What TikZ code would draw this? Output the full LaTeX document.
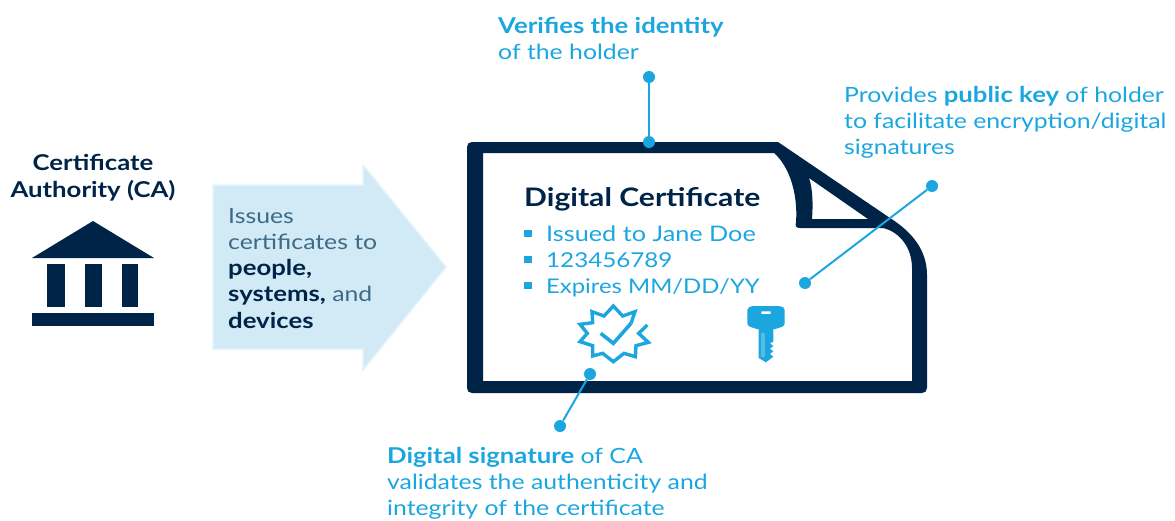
\documentclass[tikz,border=0pt]{standalone}
\usepackage{fontspec}
\setmainfont[FakeStretch=1.18]{Lato}
\definecolor{navy}{HTML}{002348}
\definecolor{sky}{HTML}{1CA6E0}
\definecolor{paleblue}{HTML}{D2EAF6}
\definecolor{paleedge}{HTML}{E2F3FA}
\definecolor{slate}{HTML}{3F6A86}
\newcommand{\bb}[1]{{\fontsize{21.8}{26.2}\selectfont\bfseries #1}}
\tikzset{
  txt/.style={inner sep=0pt,anchor=north west,align=left,text=sky,font=\fontsize{21}{26}\selectfont},
  dot/.style={circle,fill=sky,inner sep=0pt,minimum size=12pt},
  link/.style={draw=sky,line width=2pt},
  bullet/.style={fill=sky,inner sep=0pt,minimum width=8pt,minimum height=7pt},
}
\begin{document}
\begin{tikzpicture}[x=1pt,y=-1pt]
\useasboundingbox (0,0) rectangle (1175,520);
% arrow
\filldraw[fill=paleblue,draw=paleedge,line width=1.5pt] (213,185) -- (363,185) -- (363,165) -- (446,267) -- (363,370) -- (363,349) -- (213,349) -- cycle;
% bank
\fill[navy] (32,258) -- (93,221) -- (154,258) -- cycle;
\fill[navy] (47,264) rectangle (65,307);
\fill[navy] (85,264) rectangle (102,307);
\fill[navy] (122,264) rectangle (138,307);
\fill[navy] (32,313) rectangle (154,326);
% certificate
\fill[navy,even odd rule]
  (472,142) -- (778,142) -- (890,218) .. controls (912,232) and (927,250) .. (927,275)
  -- (927,388) .. controls (927,391) and (925,393) .. (922,393)
  -- (472,393) .. controls (469,393) and (467,391) .. (467,388)
  -- (467,147) .. controls (467,144) and (469,142) .. (472,142) -- cycle
  (483,153) -- (483,381) -- (912,381) -- (912,268)
  .. controls (912,248) and (900,232) .. (883,228) -- (800,228)
  .. controls (796,228) and (795,226) .. (796,222)
  .. controls (798,195) and (790,167) .. (774,153) -- cycle
  (809,178) -- (868,219) -- (812,219) .. controls (813,205) and (813,190) .. (809,178) -- cycle;
% text
\node[txt,text=navy,font=\fontsize{21.8}{27}\selectfont\bfseries,align=center,anchor=north] (ca) at (93,154.5) {Certificate\\Authority (CA)};
\node[txt,text=slate,font=\fontsize{21}{26.2}\selectfont] (issues) at (228,208) {Issues\\certificates to\\\bb{\color{navy}people,}\\\bb{\color{navy}systems,} and\\\bb{\color{navy}devices}};
\node[txt,text=navy,font=\fontsize{25.5}{28}\selectfont\bfseries] (title) at (524,187) {Digital Certificate};
\node[bullet] (b1) at (528,233) {};
\node[bullet] (b2) at (528,259) {};
\node[bullet] (b3) at (528,285) {};
\node[txt,font=\fontsize{21.4}{26.2}\selectfont] (l1) at (546,225.5) {Issued to Jane Doe};
\node[txt,font=\fontsize{20.5}{26.2}\selectfont] (l2) at (546,252) {123456789};
\node[txt,font=\fontsize{20.2}{26.2}\selectfont] (l3) at (546,278) {Expires MM/DD/YY};
\node[txt] (verify) at (498,17) {\bb{Verifies the identity}\\of the holder};
\node[txt] (pub) at (844,86.5) {Provides \bb{public key} of holder\\to facilitate encryption/digital\\signatures};
\node[txt] (sig) at (387,447.5) {\bb{Digital signature} of CA\\validates the authenticity and\\integrity of the certificate};
% badge and key
\begin{scope}[shift={(560,290)},x=0.3333pt,y=0.3333pt,yscale=-1]
\draw[sky,line width=3.4pt,line join=miter,miter limit=3]
  (262,105) -- (236,130) -- (265,157) -- (228,167) -- (226,200) -- (192,190) -- (160,215) -- (128,190) -- (98,198) -- (98,167) -- (60,155) -- (82,130) -- (60,103) -- (98,98) -- (96,65) -- (132,78) -- (160,48) -- (188,78) -- (225,65) -- (213,100);
\draw[sky,line width=3.6pt] (122,130) -- (160,160) -- (213,100);
\fill[sky,even odd rule] (562,60) .. controls (562,52) and (570,50) .. (580,48) -- (655,48) .. controls (668,50) and (674,52) .. (674,60)
  -- (674,100) .. controls (674,108) and (668,112) .. (640,118)
  -- (640,155) -- (630,160) -- (640,168) -- (630,176) -- (640,184) -- (630,192) -- (640,200) -- (618,217) -- (596,204) -- (596,118)
  .. controls (570,112) and (562,108) .. (562,100) -- cycle
  (604,64) -- (632,64) -- (632,72) -- (604,72) -- cycle;
\fill[white,opacity=.25] (604,130) rectangle (614,200);
\end{scope}
% connectors
\node[dot] (d1) at (649,77) {};
\node[dot] (d2) at (649,142) {};
\node[dot] (d3) at (932,186) {};
\node[dot] (d4) at (805,283) {};
\node[dot] (d5) at (590,374) {};
\node[dot] (d6) at (560,426) {};
\draw[link] (d1) -- (d2);
\draw[link] (d3) -- (d4);
\draw[link] (d5) -- (d6);
\end{tikzpicture}
\end{document}
